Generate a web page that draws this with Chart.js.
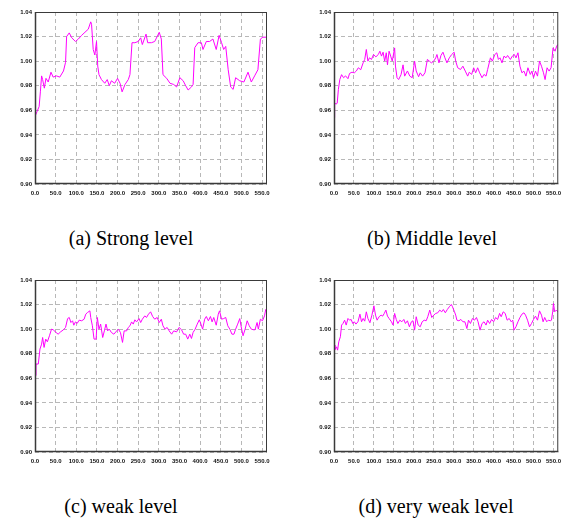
<!DOCTYPE html>
<html>
<head>
<meta charset="utf-8">
<script src="https://cdn.jsdelivr.net/npm/chart.js@4/dist/chart.umd.min.js"></script>
<style>
  html, body { margin: 0; padding: 0; background: #fff; }
  #wrap { position: relative; width: 567px; height: 518px; overflow: hidden; background: #fff; }
  canvas { position: absolute; }
  .cap { position: absolute; font-family: "Liberation Serif", "Times New Roman", serif; font-size: 20px; color: #000; white-space: nowrap; transform: translateX(-50%); line-height: 1; }
</style>
</head>
<body>
<div id="wrap">
  <canvas id="c1" width="283" height="215" style="left:0px;top:0px"></canvas>
  <canvas id="c2" width="268" height="215" style="left:299px;top:0px"></canvas>
  <canvas id="c3" width="283" height="215" style="left:0px;top:268px"></canvas>
  <canvas id="c4" width="268" height="215" style="left:299px;top:268px"></canvas>
  <div class="cap" id="t1" style="left:131px;top:228px"></div>
  <div class="cap" id="t2" style="left:432px;top:228px"></div>
  <div class="cap" id="t3" style="left:121px;top:496px"></div>
  <div class="cap" id="t4" style="left:436px;top:496px"></div>
</div>
<script>
// ---- tick labels / axes ----
const xTicks = [0, 50, 100, 150, 200, 250, 300, 350, 400, 450, 500, 550];
const yTicks = [0.90, 0.92, 0.94, 0.96, 0.98, 1.00, 1.02, 1.04];
const xMax = 562;
const captions = ["(a) Strong level", "(b) Middle level", "(c) weak level", "(d) very weak level"];

// ---- (a) strong level ----
const strongX = [0,5,10,13,16,18.5,22.6,26.6,32,38.7,44,52,60,69,74,76.6,83,89,98,105,113,121,129,135,137,141,145,149,152,155,161,169,175,180,185,193,200,206,211,218,226,230,235,242,250,256,260,269,273,282,290,301,306,310,319,327,336,343,351,359,365,371,379,383,387,395,403,407,415,423,431,439,446,452,457,462,468,474,480,486,496,506,516,524,532,540,546,552,560];
const strongY = [.955,.959,.963,.975,.988,.985,.978,.986,.983,.991,.987,.988,.987,.992,.999,1.020,1.023,1.019,1.016,1.018,1.021,1.0235,1.026,1.032,1.030,1.0095,1.005,1.016,.996,.989,.985,.982,.985,.980,.984,.982,.986,.982,.975,.981,.985,.989,1.015,1.015,1.016,1.019,1.0135,1.022,1.015,1.015,1.016,1.0235,1.018,.989,.986,.982,.981,.979,.9865,.984,.980,.9765,.979,.981,1.011,1.015,1.015,1.0095,1.016,1.016,1.018,1.0095,1.021,1.015,1.0095,1.012,.993,.979,.977,.9865,.984,.983,.991,.983,.988,.993,1.018,1.0195,1.0195];

// ---- (b) middle level ----
const middleX = [0,1.6,5,8,11,14.5,19,24,29,35,39,45,51,56,61,67,73,77,81,85,89,94,99,105,111,115,119,123,127,131,134,138,142,146,152,154,158,162,168,173,177,184,190,196,202,206,212,216,222,228,234,239,244,250,255,258,263,268,273,278,283,289,295,301,305,310,317,323,329,335,339,345,350,355,360,365,371,376,381,385,392,397,403,408,412,416,421,426,431,435,442,447,452,456,461,466,471,476,481,486,492,496,500,505,510,515,520,525,529,534,539,544,549,554,558,561];
const middleY = [.954,.966,.965,.9657,.977,.985,.989,.9865,.988,.9857,.99,.991,.9905,.992,.9946,.993,.9986,1.0014,1.0095,1.0,1.0027,1.0014,1.0054,1.0035,1.0054,1.0081,1.0041,1.0073,1.0,1.0068,.997,1.0081,1.0041,1.0,1.0108,.996,.9865,.985,.989,.997,.9878,.992,.9878,.9865,1.0,.992,.9873,.9905,.9878,.9905,1.0014,1.0,.9986,1.0,1.0027,1.0054,.9986,1.0046,1.0073,1.0027,.9986,1.0027,1.0054,1.0073,1.0,.9946,.9932,.9959,.9919,.9878,.991,.9892,.9946,.9905,.9946,.9905,.9865,.9892,.9878,.9932,1.0027,1.0,1.0054,1.0068,1.0014,1.0027,.9986,1.0041,1.0027,1.0046,1.0014,1.0041,1.0054,1.0027,1.0068,.9959,.9905,.9919,.9878,.9946,.9892,.9919,.9865,.9919,.9878,1.0,.9959,.9905,.985,.9946,.9919,.9946,1.0108,1.0081,1.0122,1.0135];

// ---- (c) weak level ----
const weakX = [0,2.4,8,12,16,18.5,22,26,30,35,40,44,51,56,62,69,74,79,83,87,91,94,98,102,107,113,119,123,127,133,135,139,143,148,151,155,159,164,168,172,176,180,185,191,198,202,207,212,216,222,226,230,234,238,242,246,252,256,260,266,270,275,280,285,290,296,301,306,310,315,320,325,331,336,343,349,355,360,365,370,375,379,383,388,393,398,402,406,411,415,420,425,429,433,439,444,447,452,457,462,467,472,477,482,486,491,496,499,504,509,514,519,524,529,533,538,541,546,551,556,559];
const weakY = [.9622,.9716,.9716,.9838,.9878,.9932,.9851,.9919,.9897,.9946,1.0,.9995,.9973,.9959,.9978,.9995,1.0014,1.0086,1.0095,1.0054,1.0068,1.0032,1.0059,1.0046,1.0073,1.0068,1.0081,1.0122,1.0135,1.0149,1.0095,1.0027,.9919,.9919,1.0095,1.0,1.0041,.9932,.9986,1.0041,.9986,1.0,.9973,.9959,.9986,1.0,.9973,.9892,.9986,.9986,1.0014,1.0027,1.0059,1.0041,1.0076,1.0059,1.0086,1.0054,1.0081,1.0108,1.0095,1.0122,1.0141,1.0103,1.0081,1.0095,1.0054,1.0081,1.0027,1.0,1.0014,.9986,.9959,.9986,.9978,1.0014,.9995,.9959,.9959,.9919,.9959,.9924,.9973,1.0,1.0041,1.0076,1.0041,1.0,1.0081,1.0103,1.0068,1.0103,1.0059,1.0095,1.0032,1.0122,1.0149,1.0081,1.0086,1.0095,1.0027,1.0,.9959,.9959,1.0,1.0041,1.0086,1.0027,.9946,1.0,1.0068,1.0027,1.0,.9995,.9995,1.0054,1.0,1.0081,1.0068,1.0108,1.0162];

// ---- (d) very weak level ----
const veryWeakX = [0,2.4,6.5,9,12,16,19,22.5,26.6,30.6,35,39,43,47,51,55,60,65,69,73,77,81,85,90,95,100,104,108,113,118,122,126,130,134,138,144,148,152,156,160,165,170,175,179,184,189,194,198,202,206,211,216,221,226,231,235,240,245,250,255,260,265,270,274,279,284,289,294,297,302,305,308,313,318,323,328,333,337,342,347,352,357,361,366,371,376,381,385,390,395,400,405,410,415,419,424,429,434,439,444,448,451,456,461,466,471,476,480,485,490,495,500,505,510,515,520,524,528,533,537,542,545,548,550,553,557,561];
const veryWeakY = [.987,.9834,.9856,.9829,.9897,.9938,1.0033,1.0046,1.0073,1.0033,1.0087,1.0073,1.0079,1.0046,1.006,1.0041,1.006,1.0122,1.006,1.0087,1.0065,1.0141,1.0087,1.0052,1.0114,1.019,1.0114,1.0073,1.0101,1.0114,1.0106,1.0128,1.0155,1.0106,1.0087,1.006,1.0033,1.0128,1.0079,1.0046,1.0073,1.006,1.0079,1.0046,1.0068,1.0019,1.006,1.0068,.9992,1.0101,1.0033,1.0019,1.006,1.0073,1.0068,1.0101,1.0155,1.0095,1.0114,1.0128,1.0133,1.0155,1.0141,1.016,1.0133,1.016,1.0182,1.0201,1.0182,1.0141,1.0114,1.0073,1.0068,1.0079,1.006,1.006,1.0005,1.0073,1.0046,1.0087,1.0073,1.0095,1.006,.9992,1.0046,1.006,1.0033,1.0073,1.0046,1.0079,1.006,1.0095,1.0079,1.0128,1.0101,1.0141,1.0128,1.0073,1.0087,1.006,1.0073,.9992,1.0019,1.006,1.0095,1.0122,1.0133,1.0114,1.0073,1.0019,1.0046,1.0079,1.0106,1.0073,1.0149,1.0114,1.006,1.0095,1.006,1.0073,1.0068,1.0073,1.0141,1.0209,1.0141,1.0155,1.0141];

const frame = {
  id: 'frame',
  afterDraw(chart) {
    const a = chart.chartArea, ctx = chart.ctx;
    ctx.save();
    ctx.strokeStyle = '#3a3a3a';
    ctx.lineWidth = 1;
    ctx.strokeRect(a.left + 0.5, a.top + 0.5, a.right - a.left - 1, a.bottom - a.top - 1);
    ctx.lineWidth = 1.5;
    ctx.beginPath();
    ctx.moveTo(a.left + 0.5, a.top);
    ctx.lineTo(a.left + 0.5, a.bottom - 0.5);
    ctx.lineTo(a.right, a.bottom - 0.5);
    ctx.stroke();
    ctx.restore();
  }
};

function makeChart(id, xs, ys, padRight) {
  const n = Math.min(xs.length, ys.length);
  const data = [];
  for (let i = 0; i < n; i++) data.push({ x: xs[i], y: ys[i] });
  new Chart(document.getElementById(id), {
    type: 'line',
    data: { datasets: [{ data: data, borderColor: '#ff00ff', borderWidth: 1, pointRadius: 0, tension: 0, fill: false }] },
    options: {
      responsive: false, animation: false, devicePixelRatio: 1,
      layout: { padding: { top: 12, right: padRight, left: 0, bottom: 0 } },
      plugins: { legend: { display: false }, tooltip: { enabled: false } },
      scales: {
        x: {
          type: 'linear', min: 0, max: xMax,
          afterBuildTicks: s => { s.ticks = xTicks.map(v => ({ value: v })); },
          afterFit: s => { s.height = 31; },
          grid: { color: '#b8b8b8', lineWidth: 1, drawTicks: false },
          border: { display: false, dash: [4, 3] },
          ticks: { autoSkip: false, maxRotation: 0, padding: 6, color: '#111', font: { family: 'Liberation Sans', size: 6, weight: 'bold' }, callback: v => Number(v).toFixed(1) }
        },
        y: {
          min: 0.90, max: 1.04,
          afterBuildTicks: s => { s.ticks = yTicks.map(v => ({ value: v })); },
          afterFit: s => { s.width = 35; },
          grid: { color: '#b8b8b8', lineWidth: 1, drawTicks: false },
          border: { display: false, dash: [4, 3] },
          ticks: { padding: 3, color: '#111', font: { family: 'Liberation Sans', size: 6, weight: 'bold' }, callback: v => Number(v).toFixed(2) }
        }
      }
    },
    plugins: [frame]
  });
}

makeChart('c1', strongX, strongY, 16);
makeChart('c2', middleX, middleY, 1);
makeChart('c3', weakX, weakY, 16);
makeChart('c4', veryWeakX, veryWeakY, 1);
['t1','t2','t3','t4'].forEach((id, i) => { document.getElementById(id).textContent = captions[i]; });
</script>
</body>
</html>
